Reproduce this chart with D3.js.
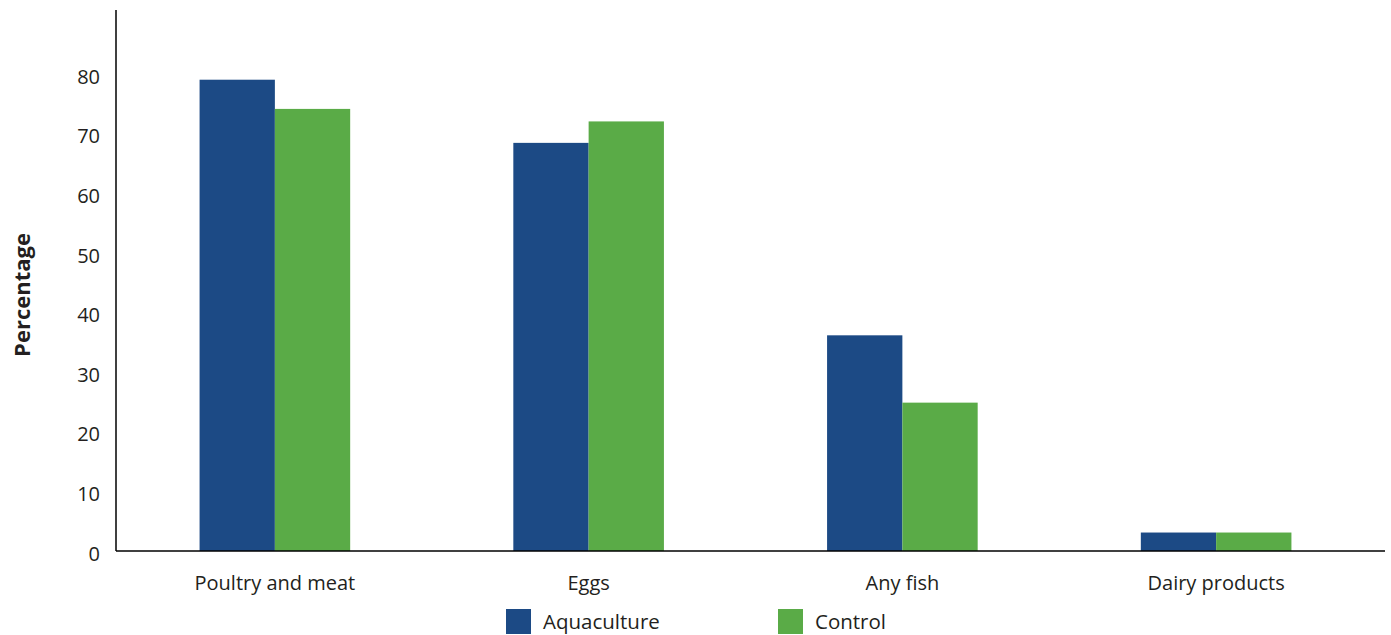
<!DOCTYPE html>
<html>
<head>
<meta charset="utf-8">
<script src="https://cdn.jsdelivr.net/npm/d3@7"></script>
<style>
  body { margin: 0; background: #fff; }
  text { font-family: "Open Sans", sans-serif; fill: #231f20; }
</style>
</head>
<body>
<svg id="chart"></svg>
<script>
const categories = ["Poultry and meat", "Eggs", "Any fish", "Dairy products"];
const seriesNames = ["Aquaculture", "Control"];
const aquaculture = [79.1, 68.5, 36.2, 3.1];
const control = [74.2, 72.1, 24.9, 3.1];
const yTicks = [0, 10, 20, 30, 40, 50, 60, 70, 80];
const colors = ["#1c4a85", "#5aab47"];

const w = 1391;
const h = 635;
const m = { left: 116, right: 1385, top: 10, bottom: 551 };

const svg = d3.select("#chart").attr("width", w).attr("height", h);

const x = d3.scaleBand()
  .domain(categories)
  .range([118, 1373])
  .paddingInner(0.52)
  .paddingOuter(0.26);

const xs = d3.scaleBand()
  .domain(seriesNames)
  .range([0, x.bandwidth()]);

const y = d3.scaleLinear()
  .domain([0, 90.8])
  .range([m.bottom, m.top]);

const rows = categories.map((c, i) => ({ cat: c, values: [aquaculture[i], control[i]] }));

// bars
svg.append("g")
  .selectAll("g")
  .data(rows)
  .enter()
  .append("g")
  .attr("transform", d => `translate(${x(d.cat)},0)`)
  .selectAll("rect")
  .data(d => d.values.map((v, j) => ({ name: seriesNames[j], v, j })))
  .enter()
  .append("rect")
  .attr("x", d => xs(d.name))
  .attr("width", xs.bandwidth())
  .attr("y", d => y(d.v))
  .attr("height", d => y(0) - y(d.v))
  .attr("fill", d => colors[d.j]);

// y axis
const yAxis = svg.append("g")
  .attr("transform", `translate(${m.left},0)`)
  .call(d3.axisLeft(y).tickValues(yTicks).tickSize(0).tickPadding(16));
yAxis.select(".domain").remove();
yAxis.selectAll("text")
  .attr("dy", "0.45em")
  .style("font-size", "20px")
  .style("font-family", "'Open Sans', sans-serif")
  .attr("fill", "#231f20");

svg.append("line")
  .attr("x1", m.left).attr("x2", m.left)
  .attr("y1", m.top).attr("y2", m.bottom)
  .attr("stroke", "#000").attr("stroke-width", 1.5);

// x axis
const xAxis = svg.append("g")
  .attr("transform", `translate(0,${m.bottom})`)
  .call(d3.axisBottom(x).tickSize(0).tickPadding(25));
xAxis.select(".domain").remove();
xAxis.selectAll("text")
  .style("font-size", "20px")
  .style("font-family", "'Open Sans', sans-serif")
  .attr("fill", "#231f20");

svg.append("line")
  .attr("x1", m.left).attr("x2", m.right)
  .attr("y1", m.bottom).attr("y2", m.bottom)
  .attr("stroke", "#000").attr("stroke-width", 1.5);

// y title
svg.append("text")
  .attr("transform", "translate(30,295) rotate(-90)")
  .attr("text-anchor", "middle")
  .style("font-size", "22px")
  .style("font-weight", "bold")
  .text("Percentage");

// legend
const legendX = [506, 778];
const legend = svg.append("g")
  .selectAll("g")
  .data(seriesNames)
  .enter()
  .append("g")
  .attr("transform", (d, i) => `translate(${legendX[i]},609)`);
legend.append("rect")
  .attr("width", 25).attr("height", 25)
  .attr("fill", (d, i) => colors[i]);
legend.append("text")
  .attr("x", 37).attr("y", 20)
  .style("font-size", "20.5px")
  .text(d => d);
</script>
</body>
</html>
